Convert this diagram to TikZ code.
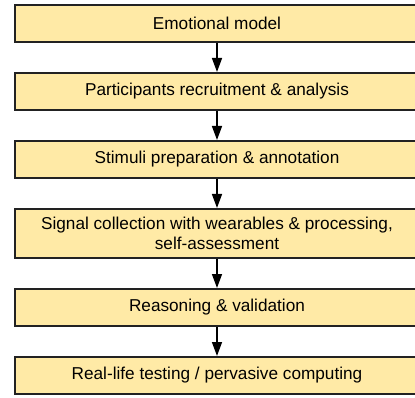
\documentclass[tikz,border=0pt]{standalone}
\usepackage{fontspec}
\setmainfont{Liberation Sans}
\usepackage{tikz}
\usetikzlibrary{positioning,arrows.meta}
\definecolor{pale-yellow}{HTML}{FFEAA6}
\definecolor{box-border}{HTML}{222222}

\begin{document}
\begin{tikzpicture}[x=1pt, y=1pt, node distance=29pt,
    stage/.style={draw=box-border, line width=1.8pt, fill=pale-yellow,
      minimum width=404pt, minimum height=37.2pt, inner sep=2pt, align=center,
      font=\fontsize{17.2}{20}\selectfont},
    flow/.style={-{Triangle[width=10pt,length=14pt]}, line width=1.5pt}]
      \clip (0,0) rectangle (415,-398);

      \node[stage] (s1) at (217,-23.5) {Emotional model};
      \node[stage, below=of s1] (s2) {Participants recruitment \& analysis};
      \node[stage, below=of s2] (s3) {Stimuli preparation \& annotation};
      \node[stage, below=of s3, minimum height=49.2pt] (s4) {Signal collection with wearables \& processing,\\ self-assessment};
      \node[stage, below=of s4] (s5) {Reasoning \& validation};
      \node[stage, below=of s5] (s6) {Real-life testing / pervasive computing};

      \draw[flow] (s1) -- (s2);
      \draw[flow] (s2) -- (s3);
      \draw[flow] (s3) -- (s4);
      \draw[flow] (s4) -- (s5);
      \draw[flow] (s5) -- (s6);
    \end{tikzpicture}
\end{document}
